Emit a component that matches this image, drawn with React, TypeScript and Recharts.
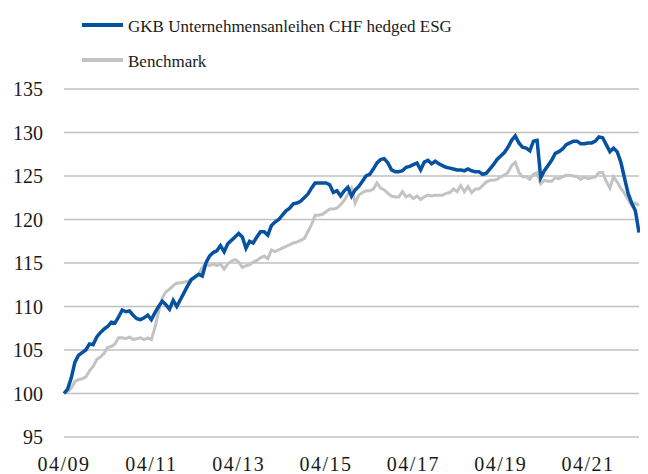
import React from "react";
import { LineChart, Line, XAxis, YAxis, CartesianGrid, Legend } from "recharts";

const START_YEAR = 2009;
const START_MONTH = 4;

const fundName = "GKB Unternehmensanleihen CHF hedged ESG";
const benchName = "Benchmark";

const fund: number[] = [
  100.0, 100.5, 101.8, 103.6, 104.4, 104.7, 105.0, 105.7, 105.6, 106.5,
  107.0, 107.4, 107.7, 108.2, 108.1, 108.8, 109.6, 109.4, 109.5, 109.0,
  108.6, 108.5, 108.7, 109.0, 108.5, 109.3, 110.0, 110.6, 110.2, 109.7,
  110.7, 110.0, 110.8, 111.6, 112.4, 113.1, 113.4, 113.7, 113.5, 115.0,
  115.8, 116.2, 116.4, 117.0, 116.3, 117.2, 117.6, 118.0, 118.4, 118.0,
  116.7, 117.5, 117.3, 118.0, 118.6, 118.6, 118.2, 119.3, 119.7, 120.0,
  120.5, 121.0, 121.3, 121.8, 121.9, 122.1, 122.5, 122.9, 123.6, 124.2,
  124.2, 124.2, 124.2, 124.0, 123.1, 123.3, 122.7, 123.3, 123.7, 122.7,
  123.4, 123.8, 124.4, 125.0, 125.2, 125.8, 126.5, 126.9, 127.0, 126.5,
  125.7, 125.5, 125.5, 125.6, 126.0, 126.1, 126.3, 126.5, 125.7, 126.6,
  126.8, 126.4, 126.7, 126.4, 126.2, 126.0, 125.9, 125.8, 125.7, 125.7,
  125.6, 125.8, 125.6, 125.5, 125.5, 125.2, 125.3, 125.8, 126.3, 126.9,
  127.3, 127.7, 128.3, 129.1, 129.6, 128.8, 128.3, 128.2, 127.9, 129.0,
  129.1, 124.8, 125.6, 126.2, 126.8, 127.6, 127.8, 128.1, 128.6, 128.8,
  129.0, 129.0, 128.7, 128.7, 128.8, 128.8, 129.0, 129.5, 129.4, 128.6,
  127.8, 128.2, 127.8, 126.6, 124.8, 123.0, 121.9, 121.0, 118.5,
];

const benchmark: number[] = [
  100.0, 100.2, 100.6, 101.4, 101.6, 101.7, 101.9, 102.6, 103.1, 103.9,
  104.2, 104.6, 105.3, 105.4, 105.7, 106.4, 106.4, 106.3, 106.5, 106.2,
  106.3, 106.4, 106.2, 106.4, 106.2, 107.6, 109.4, 111.0, 111.7, 112.0,
  112.4, 112.7, 112.7, 112.8, 112.9, 113.1, 113.3, 113.7, 114.5, 114.9,
  114.7, 114.9, 114.7, 114.9, 114.3, 114.9, 115.2, 115.4, 115.1, 114.5,
  114.7, 114.8, 115.1, 115.3, 115.6, 115.8, 115.5, 116.5, 116.3, 116.5,
  116.7, 116.9, 117.1, 117.3, 117.4, 117.6, 117.8, 118.6, 119.4, 120.5,
  120.5, 120.6, 120.9, 121.2, 121.2, 121.3, 121.7, 122.2, 122.9, 123.6,
  121.9, 122.8, 123.1, 123.3, 123.3, 123.5, 124.2, 123.6, 123.4, 123.0,
  122.7, 122.6, 122.6, 123.2, 122.6, 122.8, 122.4, 122.7, 122.3, 122.6,
  122.8, 122.7, 122.8, 122.8, 122.8, 123.0, 123.1, 123.5, 123.2, 123.9,
  123.2, 123.8, 123.1, 123.5, 123.5, 123.9, 124.3, 124.5, 124.5, 124.6,
  124.9, 125.1, 125.4, 126.2, 126.6, 125.4, 124.9, 124.9, 124.6, 125.2,
  125.4, 124.1, 124.5, 124.4, 124.4, 124.8, 124.7, 124.9, 125.1, 125.1,
  125.0, 124.9, 124.6, 124.9, 124.7, 124.8, 124.9, 125.4, 125.4, 124.4,
  123.6, 124.9, 124.3, 123.6, 123.0, 122.3, 121.6, 121.9, 121.6,
];

const xTickLabels = ["04/09", "04/11", "04/13", "04/15", "04/17", "04/19", "04/21"];
const yTicks = [95, 100, 105, 110, 115, 120, 125, 130, 135];

const pad = (n: number) => (n < 10 ? "0" + n : String(n));
const monthLabel = (i: number) => {
  const total = START_MONTH - 1 + i;
  const m = (total % 12) + 1;
  const y = START_YEAR + Math.floor(total / 12);
  return pad(m) + "/" + pad(y % 100);
};

const data = fund.map((v, i) => ({ idx: i, date: monthLabel(i), fund: v, benchmark: benchmark[i] }));
const labelToIdx = (lbl: string) => data.findIndex((d) => d.date === lbl);
const xTicks = xTickLabels.map(labelToIdx);

const FONT = "Liberation Serif";
const FONT_CSS = "'Liberation Serif', serif";
const BLUE = "#0652a0";
const GRAY = "#c3c3c3";
const TEXT = "#1a1a1a";

const LegendContent = () => (
  <svg width={560} height={72} style={{ display: "block" }}>
    <line x1={74} x2={115} y1={17} y2={17} stroke={BLUE} strokeWidth={4} />
    <text x={120} y={24} fontFamily={FONT} fontSize={17} fill={TEXT} style={{ fontFamily: FONT_CSS }}>{fundName}</text>
    <line x1={74} x2={115} y1={52} y2={52} stroke={GRAY} strokeWidth={4} />
    <text x={120} y={59} fontFamily={FONT} fontSize={17} fill={TEXT} style={{ fontFamily: FONT_CSS }}>{benchName}</text>
  </svg>
);

const XTick = (props: any) => {
  const { x, y, payload } = props;
  const label = data[payload.value]?.date ?? "";
  return (
    <text
      x={x}
      y={y}
      dy="0.71em"
      textAnchor="middle"
      fontSize={20}
      fill={TEXT}
      letterSpacing={1.5}
      style={{ fontFamily: FONT_CSS, fontSize: 20, letterSpacing: 1.5 }}
    >
      {label}
    </text>
  );
};

const YTick = (props: any) => {
  const { x, y, payload } = props;
  return (
    <text
      x={x}
      y={y}
      dy="0.355em"
      textAnchor="end"
      fontSize={20}
      fill={TEXT}
      style={{ fontFamily: FONT_CSS, fontSize: 20 }}
    >
      {payload.value}
    </text>
  );
};

export default function App() {
  return (
    <div style={{ width: 640, height: 466, fontFamily: FONT_CSS }}>
      <LineChart
        width={640}
        height={466}
        data={data}
        margin={{ top: 81, right: 9, bottom: 7, left: 0 }}
        style={{ fontFamily: FONT_CSS }}
      >
        <CartesianGrid vertical={false} stroke="#c0c0c0" strokeWidth={1.5} />
        <XAxis
          dataKey="idx"
          type="number"
          domain={[0, 158]}
          ticks={xTicks}
          axisLine={false}
          tickLine={false}
          tickSize={0}
          tickMargin={20}
          height={30}
          interval={0}
          tick={<XTick />}
        />
        <YAxis
          domain={[95, 135]}
          ticks={yTicks}
          axisLine={false}
          tickLine={false}
          tickSize={0}
          tickMargin={21}
          width={56}
          interval={0}
          tick={<YTick />}
        />
        <Legend
          layout="horizontal"
          verticalAlign="middle"
          align="center"
          content={() => <LegendContent />}
          wrapperStyle={{ position: "absolute", top: 0, left: 0, width: 560, height: 72 }}
        />
        <Line
          type="linear"
          dataKey="benchmark"
          name={benchName}
          stroke={GRAY}
          strokeWidth={3}
          dot={false}
          isAnimationActive={false}
        />
        <Line
          type="linear"
          dataKey="fund"
          name={fundName}
          stroke={BLUE}
          strokeWidth={3.5}
          dot={false}
          isAnimationActive={false}
        />
      </LineChart>
    </div>
  );
}
